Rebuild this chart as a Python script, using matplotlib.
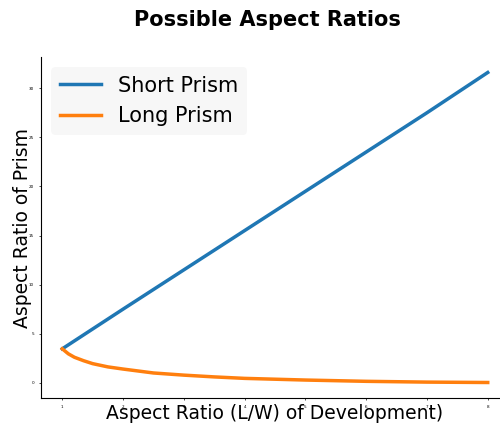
import numpy as np
import matplotlib
matplotlib.use('Agg')
import matplotlib.pyplot as plt

# aspect ratio of development (L/W)
dev_ratio = [1, 2, 3, 4, 5, 6, 7, 8]
short_prism = [3.46, 7.5, 11.5, 15.5, 19.5, 23.5, 27.5, 31.6]

dev_ratio_long = [1, 1.1, 1.2, 1.35, 1.5, 1.75, 2, 2.5, 3, 3.5, 4, 5, 6, 7, 8]
long_prism = [3.46, 2.95, 2.6, 2.25, 1.95, 1.62, 1.4, 1.0, 0.78, 0.6, 0.45, 0.28, 0.15, 0.07, 0.03]

fig = plt.figure(figsize=(5, 4.26), dpi=100)
ax = fig.add_axes([41 / 500, 28 / 426, 468 / 500, 341 / 426])

ax.plot(dev_ratio, short_prism, color='#1f77b4', lw=2.5, label='Short Prism')
ax.plot(dev_ratio_long, long_prism, color='#ff7f0e', lw=2.5, label='Long Prism')

ax.spines['top'].set_visible(False)
ax.spines['right'].set_visible(False)
ax.tick_params(labelsize=3, length=1.5, width=0.5)
ax.set_xticks(range(1, 9))
ax.set_yticks(range(0, 31, 5))

ax.set_xlabel('Aspect Ratio (L/W) of Development)', fontsize=13.5)
ax.xaxis.set_label_coords(0.5, -0.019)
ax.set_ylabel('Aspect Ratio of Prism', fontsize=13.5)
ax.yaxis.set_label_coords(-0.02, 0.5)

leg = ax.legend(loc='upper left', fontsize=15, frameon=True, fancybox=True)
leg.get_frame().set_facecolor('#f7f7f7')
leg.get_frame().set_edgecolor('none')
leg.get_frame().set_alpha(1)

fig.text(267 / 500, 1 - 20 / 426, 'Possible Aspect Ratios', ha='center', va='center',
         fontsize=15, fontweight='bold')

fig.savefig('out.png', dpi=100)
